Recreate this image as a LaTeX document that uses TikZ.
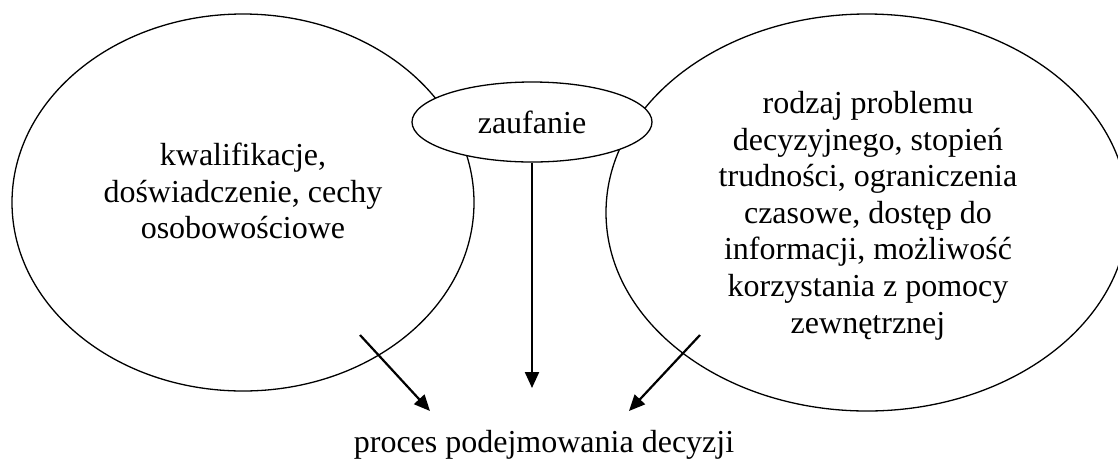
\documentclass[tikz,border=0pt]{standalone}
\usepackage{fontspec}
\setmainfont{Liberation Serif}
\usetikzlibrary{shapes.geometric,arrows.meta}
\begin{document}
\begin{tikzpicture}[x=1pt,y=-1pt,
  bigell/.style={draw, ellipse, line width=1.3pt, inner sep=0pt},
  lbl/.style={font=\fontsize{32}{36.6}\selectfont, align=center, inner sep=0pt},
  arr/.style={line width=2.2pt, -{Triangle[length=16pt,width=14pt]}}]
\useasboundingbox (0,0) rectangle (1118,459);
\node[bigell, minimum width=462pt, minimum height=377pt] (left) at (243,202.5) {};
\node[bigell, minimum width=522pt, minimum height=397pt] (right) at (867,212.5) {};
\node[bigell, fill=white, minimum width=240pt, minimum height=80pt, lbl] (zauf) at (532,122) {zaufanie};
\node[lbl] (ltext) at (243,191) {kwalifikacje,\\doświadczenie, cechy\\osobowościowe};
\node[lbl] (rtext) at (868,215.5) {rodzaj problemu\\decyzyjnego, stopień\\trudności, ograniczenia\\czasowe, dostęp do\\informacji, możliwość\\korzystania z pomocy\\zewnętrznej};
\node[lbl, anchor=base] (proc) at (544,452) {proces podejmowania decyzji};
\coordinate (ls) at (360,335);
\coordinate (le) at (430,411);
\coordinate (rs) at (700,335);
\coordinate (re) at (629,411);
\coordinate (ce) at (532,388);
\draw[arr] (ls) -- (le);
\draw[arr] (rs) -- (re);
\draw[arr] (zauf.south) -- (ce);
\end{tikzpicture}
\end{document}
